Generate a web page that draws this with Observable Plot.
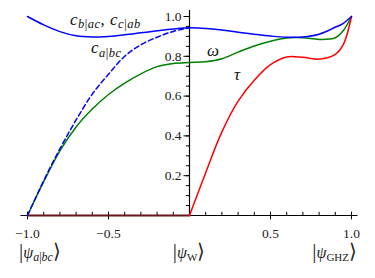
<!DOCTYPE html>
<html><head><meta charset="utf-8">
<script src="https://cdn.jsdelivr.net/npm/d3@7"></script>
<script src="https://cdn.jsdelivr.net/npm/@observablehq/plot@0.6"></script>
<style>body{margin:0;background:#fff}#chart svg{display:block}</style>
</head><body><div id="chart"></div>
<script>
// x grid (state parameter)
const xGrid = [-1.0,-0.9,-0.8,-0.7,-0.6,-0.5,-0.4,-0.3,-0.2,-0.1,0.0,0.1,0.2,0.3,0.4,0.5,0.6,0.7,0.8,0.9,0.95,1.0];
// c_{b|ac}, c_{c|ab}
const cBC = [1.0,0.958,0.924,0.903,0.897,0.900,0.908,0.918,0.928,0.937,0.943,0.940,0.932,0.921,0.911,0.902,0.896,0.897,0.911,0.946,0.966,1.0];
// c_{a|bc} (defined for x <= 0)
const cA = [0.0,0.175,0.335,0.48,0.61,0.71,0.80,0.858,0.896,0.925,0.943];
// omega
const omega = [0.0,0.17,0.325,0.445,0.535,0.608,0.665,0.712,0.748,0.764,0.769,0.773,0.788,0.821,0.852,0.876,0.892,0.893,0.885,0.893,0.93,1.0];
// tau
const tau = [0,0,0,0,0,0,0,0,0,0,0,0.215,0.42,0.575,0.68,0.758,0.797,0.795,0.786,0.81,0.86,1.0];

const xMajorTicks = [-1.0,-0.5,0.5,1.0];
const xTickLabels = ["\u22121.0","\u22120.5","0.5","1.0"];
const xMinorTicks = [-1.0,-0.9,-0.8,-0.7,-0.6,-0.5,-0.4,-0.3,-0.2,-0.1,0.1,0.2,0.3,0.4,0.5,0.6,0.7,0.8,0.9,1.0];
const yMajorTicks = [0.2,0.4,0.6,0.8,1.0];
const yTickLabels = ["0.2","0.4","0.6","0.8","1.0"];
const yMinorTicks = [0.05,0.1,0.15,0.2,0.25,0.3,0.35,0.4,0.45,0.5,0.55,0.6,0.65,0.7,0.75,0.8,0.85,0.9,0.95,1.0];

// state labels on x axis
const stateX = [-1, 0, 1];
const stateSubs = ["a|bc", "W", "GHZ"];
const stateSubItalic = [true, false, false];
const stateAnchor = ["start", "middle", "end"];

// curve labels (data coordinates)
const curveLabelX = [-0.735, -0.605, 0.111, 0.278];
const curveLabelY = [0.955, 0.814, 0.80, 0.678];

const FONT = "Liberation Serif";
const rows = (ys) => ys.map((y, i) => ({x: xGrid[i], y}));
const tauRows = rows(tau);
const tauLeft = tauRows.filter(d => d.x <= 0);
const tauRight = tauRows.filter(d => d.x >= 0);

const plot = Plot.plot({
  width: 375, height: 278,
  marginLeft: 27, marginRight: 24, marginTop: 16, marginBottom: 63,
  x: {domain: [-1, 1], axis: null},
  y: {domain: [0, 1], axis: null},
  style: {fontFamily: FONT, background: "white", overflow: "visible"},
  marks: [
    // axes
    Plot.ruleY([0], {x1: -1.04, x2: 1.04, stroke: "black", strokeWidth: 1.2}),
    Plot.ruleX([0], {y1: 0, y2: 1.03, stroke: "black", strokeWidth: 1.2}),
    Plot.ruleX(xMinorTicks, {x: d => d, y1: 0, y2: 0.016, stroke: "black", strokeWidth: 1}),
    Plot.ruleX(xMajorTicks, {x: d => d, y1: -0.022, y2: 0.016, stroke: "black", strokeWidth: 1}),
    Plot.ruleY(yMinorTicks, {y: d => d, x1: 0, x2: -0.019, stroke: "black", strokeWidth: 1}),
    Plot.ruleY(yMajorTicks, {y: d => d, x1: 0, x2: -0.034, stroke: "black", strokeWidth: 1}),
    Plot.text(xMajorTicks, {x: d => d, y: 0, text: (d, i) => xTickLabels[i], dy: 18, lineAnchor: "middle", fontSize: 13.5, fill: "#222", fontFamily: FONT}),
    Plot.text(yMajorTicks, {x: 0, y: d => d, text: (d, i) => yTickLabels[i], dx: -8, textAnchor: "end", lineAnchor: "middle", fontSize: 13.5, fill: "#222", fontFamily: FONT}),
    // curves
    Plot.line(tauLeft, {x: "x", y: "y", stroke: "#6a1515", strokeWidth: 1.8}),
    Plot.line(rows(omega), {x: "x", y: "y", stroke: "#008000", strokeWidth: 1.5, curve: "catmull-rom"}),
    Plot.line(tauRight, {x: "x", y: "y", stroke: "#ff0000", strokeWidth: 1.5, curve: "catmull-rom"}),
    Plot.line(rows(cA), {x: "x", y: "y", stroke: "#0000ff", strokeWidth: 1.5, strokeDasharray: "5,3", curve: "catmull-rom"}),
    Plot.line(rows(cBC), {x: "x", y: "y", stroke: "#0000ff", strokeWidth: 1.5, curve: "catmull-rom"})
  ]
});
document.getElementById("chart").appendChild(plot);

const sx = plot.scale("x").apply, sy = plot.scale("y").apply;
const svg = d3.select(plot);
const g = svg.append("g").attr("font-family", FONT).attr("fill", "#111").attr("text-anchor", "start");

function mathLabel(x, y, parts, size) {
  const t = g.append("text").attr("x", x).attr("y", y).attr("font-size", size || 17)
    .attr("text-anchor", "start").attr("letter-spacing", 0.5);
  let shift = 0;
  for (const p of parts) {
    const ts = t.append("tspan").text(p.t);
    if (p.it) ts.attr("font-style", "italic");
    if (p.size) ts.attr("font-size", p.size);
    const target = p.sub ? 3.5 : 0;
    if (target !== shift) { ts.attr("dy", target - shift); shift = target; }
  }
  return t;
}

// c_{b|ac}, c_{c|ab}
mathLabel(sx(curveLabelX[0]), sy(curveLabelY[0]), [
  {t: "c", it: true},
  {t: "b", it: true, sub: true, size: 12.5}, {t: "|", sub: true, size: 12.5}, {t: "ac", it: true, sub: true, size: 12.5},
  {t: ", "},
  {t: "c", it: true},
  {t: "c", it: true, sub: true, size: 12.5}, {t: "|", sub: true, size: 12.5}, {t: "ab", it: true, sub: true, size: 12.5}
]);
// c_{a|bc}
mathLabel(sx(curveLabelX[1]), sy(curveLabelY[1]), [
  {t: "c", it: true},
  {t: "a", it: true, sub: true, size: 12.5}, {t: "|", sub: true, size: 12.5}, {t: "bc", it: true, sub: true, size: 12.5}
]);
mathLabel(sx(curveLabelX[2]), sy(curveLabelY[2]), [{t: "\u03c9", it: true}], 17);
mathLabel(sx(curveLabelX[3]), sy(curveLabelY[3]), [{t: "\u03c4", it: true}], 17);

// kets under the x axis
stateX.forEach((x, i) => {
  const dx = stateAnchor[i] === "start" ? -8 : stateAnchor[i] === "end" ? 6 : 0;
  const t = g.append("text").attr("x", sx(x) + dx).attr("y", sy(0) + 43)
    .attr("text-anchor", stateAnchor[i]).attr("font-size", 16).attr("fill", "#222");
  t.append("tspan").text("|").attr("font-size", 21);
  t.append("tspan").text("\u03c8").attr("font-style", "italic");
  const sub = stateSubs[i];
  if (stateSubItalic[i]) {
    const parts = sub.split("|");
    t.append("tspan").text(parts[0]).attr("font-style", "italic").attr("font-size", 12).attr("dy", 3);
    t.append("tspan").text("|").attr("font-size", 12);
    t.append("tspan").text(parts[1]).attr("font-style", "italic").attr("font-size", 12);
  } else {
    t.append("tspan").text(sub).attr("font-size", 11).attr("dy", 3);
  }
  t.append("tspan").text("\u27e9").attr("font-size", 20).attr("dy", -3);
});
</script>
</body></html>
